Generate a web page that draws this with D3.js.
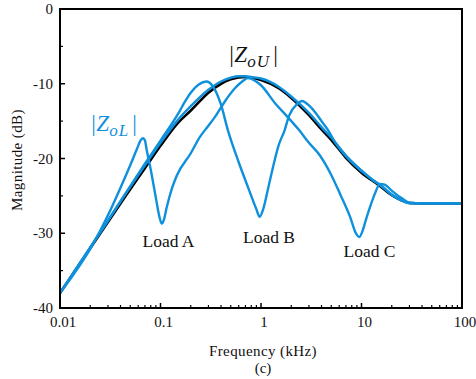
<!DOCTYPE html>
<html><head><meta charset="utf-8">
<script src="https://cdn.jsdelivr.net/npm/d3@7"></script>
<style>body{margin:0;background:#fff}svg{display:block}</style>
</head><body><svg id="c" width="476" height="379"></svg>
<script>
// frequencies (kHz) and magnitudes (dB)
const zoUFreq = [0.01,0.02,0.03,0.05,0.07,0.1,0.15,0.2,0.3,0.4,0.5,0.6,0.7,0.8,1.0,1.5,2.0,3.0,4.0,5.0,7.0,10,15,20,25,30,40,100];
const zoUMag  = [-38.0,-32.0,-28.5,-24.1,-21.3,-18.3,-15.2,-13.6,-11.2,-10.0,-9.4,-9.15,-9.1,-9.2,-9.5,-10.6,-11.9,-14.2,-16.1,-17.5,-19.9,-21.9,-23.6,-24.9,-25.6,-25.95,-26.0,-26.0];

const loadQFreq = [0.01,0.02,0.03,0.05,0.07,0.1,0.15,0.2,0.3,0.4,0.5,0.6,0.7,0.8,1.0,1.5,2.0,3.0,4.0,5.0,7.0,10,13,15,17,20,25,30,40,100];
const loadQMag  = [-38.0,-31.9,-28.3,-23.8,-20.9,-17.9,-14.8,-13.0,-10.8,-9.7,-9.2,-9.0,-9.0,-9.1,-9.3,-10.4,-11.7,-13.9,-15.8,-17.2,-19.6,-21.6,-22.9,-23.4,-24.0,-24.9,-25.6,-26.0,-26.0,-26.0];

const loadBFreq = [0.01,0.02,0.03,0.05,0.07,0.1,0.15,0.175,0.2,0.24,0.287,0.33,0.4,0.468,0.6,0.75,0.9,0.97,1.05,1.2,1.5,1.72,1.9,2.3,2.55,3.0,3.5,4.0,4.65,5.5,7.0,10,15,20,25,30,40,100];
const loadBMag  = [-38.0,-31.9,-28.3,-23.7,-20.7,-17.6,-14.0,-12.4,-11.2,-10.1,-9.7,-10.3,-12.8,-16.2,-20.5,-24.0,-26.8,-27.8,-26.8,-23.5,-18.2,-16.2,-14.3,-12.7,-12.3,-12.9,-13.9,-15.0,-16.2,-17.9,-19.7,-21.7,-23.5,-24.8,-25.6,-25.95,-26.0,-26.0];

const loadACFreq = [0.01,0.021,0.03,0.04,0.05,0.058,0.064,0.067,0.07,0.073,0.08,0.09,0.098,0.103,0.108,0.115,0.13,0.145,0.2,0.247,0.277,0.35,0.44,0.55,0.65,0.74,0.87,1.0,1.38,1.8,2.36,3.0,3.86,5.0,6.1,7.7,8.8,9.5,10.3,11.0,12.15,13.6,15.3,17,20,25,30,40,100];
const loadACMag  = [-38.0,-31.6,-27.6,-23.9,-20.9,-18.8,-17.5,-17.3,-17.6,-18.9,-21.5,-25.3,-27.9,-28.7,-28.2,-26.6,-24.0,-22.3,-19.3,-17.1,-16.2,-14.4,-12.3,-10.6,-9.7,-9.25,-9.6,-10.2,-12.6,-14.3,-16.1,-17.9,-19.6,-22.2,-24.7,-27.8,-30.0,-30.5,-29.6,-28.3,-26.5,-24.7,-23.4,-23.5,-24.3,-25.3,-25.9,-26.0,-26.0];

const yTicks = [0,-10,-20,-30,-40];
const yTickLabels = ["0","-10","-20","-30","-40"];
const xTicks = [0.01,0.1,1,10,100];
const xTickLabels = ["0.01","0.1","1","10","100"];
const loadLabels = ["Load A","Load B","Load C"];
const loadLabelFreq = [0.1,1.0,10];
const loadLabelMag = [-31.9,-31.3,-33.2];

const FONT = "'Liberation Serif', 'DejaVu Serif', serif";
const svg = d3.select("#c");
const L=60,R=462,T=9,B=308;
const x = d3.scaleLog().domain([0.01,100]).range([L,R]);
const y = d3.scaleLinear().domain([-40,0]).range([B,T]);

svg.append("clipPath").attr("id","clip").append("rect").attr("x",L).attr("y",T).attr("width",R-L).attr("height",B-T);

const line = d3.line().x(d=>x(d[0])).y(d=>y(d[1])).curve(d3.curveMonotoneX);
const g = svg.append("g").attr("clip-path","url(#clip)");
const blue = "#0f90dc";
g.append("path").attr("d",line(d3.zip(zoUFreq,zoUMag))).attr("fill","none").attr("stroke","#000").attr("stroke-width",2.6);
[[loadQFreq,loadQMag],[loadBFreq,loadBMag],[loadACFreq,loadACMag]].forEach(([f,m])=>{
  g.append("path").attr("d",line(d3.zip(f,m))).attr("fill","none").attr("stroke",blue).attr("stroke-width",2.4).attr("stroke-linejoin","round");
});

// frame
svg.append("rect").attr("x",L).attr("y",T).attr("width",R-L).attr("height",B-T).attr("fill","none").attr("stroke","#000").attr("stroke-width",2);

// y ticks (inside)
const yMinor = d3.range(-35,0,10);
svg.append("g").selectAll("line").data(yTicks).join("line")
  .attr("x1",L).attr("x2",L+5).attr("y1",d=>y(d)).attr("y2",d=>y(d)).attr("stroke","#000").attr("stroke-width",1.5);
svg.append("g").selectAll("line").data(yMinor).join("line")
  .attr("x1",L).attr("x2",L+3).attr("y1",d=>y(d)).attr("y2",d=>y(d)).attr("stroke","#000").attr("stroke-width",1.2);
svg.append("g").selectAll("text").data(yTicks).join("text")
  .attr("x",L-7).attr("y",d=>y(d)+5).attr("text-anchor","end").attr("font-family",FONT).attr("font-size",15).attr("fill","#111")
  .text((d,i)=>yTickLabels[i]);

// x ticks (inside)
const xMinor = [];
[0.01,0.1,1,10].forEach(dec=>{for(let k=2;k<=9;k++) xMinor.push(dec*k);});
svg.append("g").selectAll("line").data(xTicks).join("line")
  .attr("x1",d=>x(d)).attr("x2",d=>x(d)).attr("y1",B).attr("y2",B-5).attr("stroke","#000").attr("stroke-width",1.5);
svg.append("g").selectAll("line").data(xMinor).join("line")
  .attr("x1",d=>x(d)).attr("x2",d=>x(d)).attr("y1",B).attr("y2",B-3).attr("stroke","#000").attr("stroke-width",1.2);
svg.append("g").selectAll("text").data(xTicks).join("text")
  .attr("x",d=>x(d)+3).attr("y",B+19).attr("text-anchor","middle").attr("font-family",FONT).attr("font-size",15).attr("fill","#111")
  .text((d,i)=>xTickLabels[i]);

// axis titles
svg.append("text").attr("transform","translate(22,160) rotate(-90)").attr("text-anchor","middle").attr("font-family",FONT).attr("font-size",15).attr("letter-spacing",0.4).attr("fill","#111").text("Magnitude (dB)");
svg.append("text").attr("x",263).attr("y",356).attr("text-anchor","middle").attr("font-family",FONT).attr("font-size",15).attr("letter-spacing",0.4).attr("fill","#111").text("Frequency (kHz)");
svg.append("text").attr("x",263).attr("y",373).attr("text-anchor","middle").attr("font-family",FONT).attr("font-size",15).attr("fill","#111").text("(c)");

// load labels
svg.append("g").selectAll("text").data(loadLabels).join("text")
  .attr("x",(d,i)=>x(loadLabelFreq[i])+8).attr("y",(d,i)=>y(loadLabelMag[i]))
  .attr("text-anchor","middle").attr("font-family",FONT).attr("font-size",17.5).attr("fill","#111").text(d=>d);

// |Z_oU| and |Z_oL|
function zlabel(xp,yp,sub,color){
  const t = svg.append("text").attr("x",xp).attr("y",yp).attr("font-family",FONT).attr("font-size",23).attr("fill",color).attr("font-style","italic");
  t.append("tspan").text("|Z");
  t.append("tspan").attr("dy",5).attr("font-size",17).attr("letter-spacing",1).text(sub);
  t.append("tspan").attr("dy",-5).attr("dx",2).text("|");
}
zlabel(228,62,"oU","#111");
zlabel(90,131,"oL",blue);
</script></body></html>
